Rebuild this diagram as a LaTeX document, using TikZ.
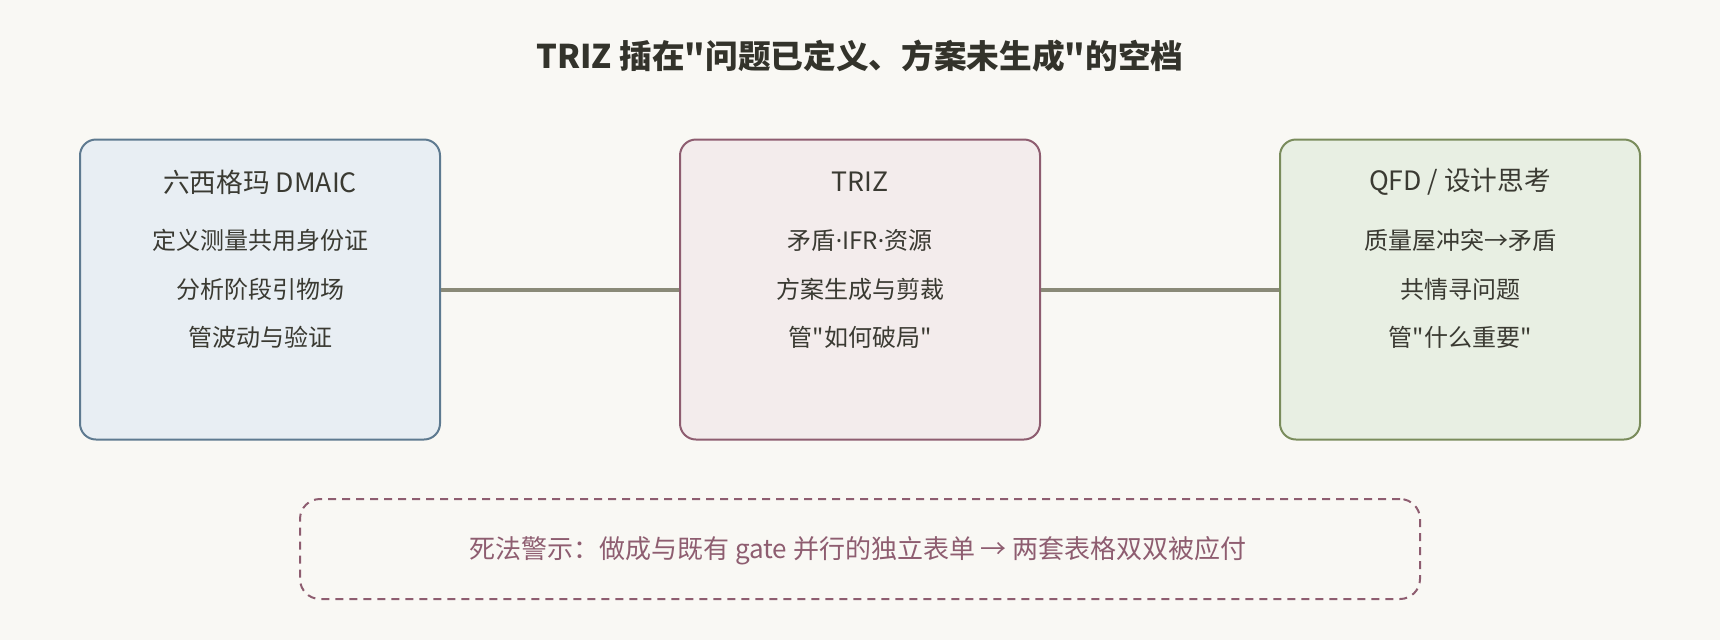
\documentclass[tikz,border=0pt]{standalone}
\usepackage{fontspec}
\newfontfamily\cjk{Noto Sans CJK SC}
\newfontfamily\latn{Noto Sans}
\newcommand\mdot{{\latn ·}}
\definecolor{bg}{HTML}{F9F8F4}
\definecolor{ink}{HTML}{3A3A32}
\definecolor{titleink}{HTML}{33332B}
\definecolor{bluefill}{HTML}{E8EEF3}
\definecolor{bluedraw}{HTML}{5E7A90}
\definecolor{redfill}{HTML}{F3ECEC}
\definecolor{reddraw}{HTML}{8E5D70}
\definecolor{greenfill}{HTML}{E8EFE3}
\definecolor{greendraw}{HTML}{7A8C5C}
\definecolor{connc}{HTML}{8A8A78}
\definecolor{warnc}{HTML}{8E5D70}
\tikzset{
  panel/.style={rectangle, rounded corners=12pt, line width=1.5pt, minimum width=270pt, minimum height=225pt, inner sep=0pt},
  boxtitle/.style={text=ink, font=\cjk\fontsize{20pt}{24pt}\selectfont, inner sep=0pt},
  boxline/.style={text=ink, font=\cjk\fontsize{18pt}{22pt}\selectfont, inner sep=0pt},
  conn/.style={draw=connc, line width=3pt},
  warnbox/.style={rectangle, rounded corners=15pt, draw=warnc, line width=1.5pt, dash pattern=on 6pt off 4.5pt, minimum width=840pt, minimum height=75pt, inner sep=0pt},
}
\begin{document}
\begin{tikzpicture}[x=0.75pt,y=-0.75pt]
\fill[bg] (0,0) rectangle (1720,640);
\useasboundingbox (0,0) rectangle (1720,640);
\node[text=titleink, font=\cjk\fontsize{24.5pt}{29pt}\selectfont\bfseries, inner sep=0pt] (title) at (860,56) {TRIZ 插在"问题已定义、方案未生成"的空档};

\node[panel, fill=bluefill, draw=bluedraw] (six) at (260,289.5) {};
\node[panel, fill=redfill, draw=reddraw] (triz) at (860,289.5) {};
\node[panel, fill=greenfill, draw=greendraw] (qfd) at (1460,289.5) {};

\draw[conn] (six.east) -- (triz.west);
\draw[conn] (triz.east) -- (qfd.west);

\node[boxtitle] (sixT) at (260,182) {六西格玛 DMAIC};
\node[boxline] (sixA) at (260,240) {定义测量共用身份证};
\node[boxline] (sixB) at (260,289) {分析阶段引物场};
\node[boxline] (sixC) at (260,337) {管波动与验证};

\node[boxtitle] (trizT) at (860,182) {TRIZ};
\node[boxline] (trizA) at (860,240) {矛盾\mdot IFR\mdot 资源};
\node[boxline] (trizB) at (860,289) {方案生成与剪裁};
\node[boxline] (trizC) at (860,337) {管"如何破局"};

\node[boxtitle] (qfdT) at (1460,182) {QFD / 设计思考};
\node[boxline] (qfdA) at (1460,240) {质量屋冲突→矛盾};
\node[boxline] (qfdB) at (1460,289) {共情寻问题};
\node[boxline] (qfdC) at (1460,337) {管"什么重要"};

\node[warnbox] (warn) at (860,549) {};
\node[text=warnc, font=\cjk\fontsize{19.5pt}{23pt}\selectfont, inner sep=0pt] (warnT) at (858,551) {死法警示：做成与既有 gate 并行的独立表单 → 两套表格双双被应付};
\end{tikzpicture}
\end{document}
